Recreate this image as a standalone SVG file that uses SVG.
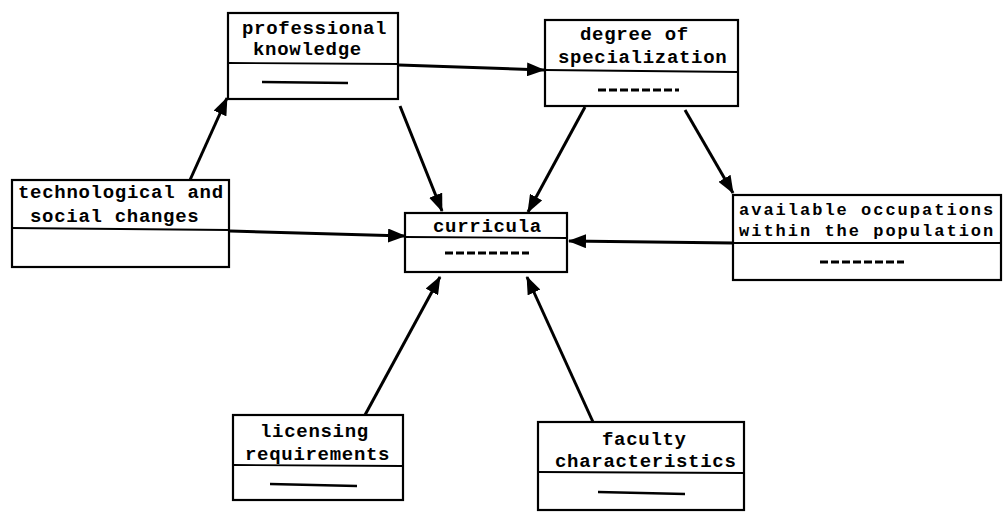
<svg xmlns="http://www.w3.org/2000/svg" width="1003" height="512" viewBox="0 0 1003 512">
<style>
.box{fill:#fff;stroke:#000;stroke-width:2.2}
.div{stroke:#000;stroke-width:1.8}
.dash{stroke:#000;stroke-width:2.4}
.dd{stroke:#000;stroke-width:3;stroke-dasharray:8 3}
.t{font-family:"Liberation Mono","DejaVu Sans Mono",monospace;font-size:19px;letter-spacing:0.7px;font-weight:bold;fill:#000}
.s{font-size:17px;letter-spacing:2px}
.c{stroke:#000;stroke-width:3;fill:none;marker-end:url(#ah)}
</style>
<defs>
<marker id="ah" markerUnits="userSpaceOnUse" markerWidth="18" markerHeight="14" refX="17" refY="7" orient="auto">
<path d="M0,0 L18,7 L0,14 z" fill="#000"/>
</marker>
</defs>
<rect width="1003" height="512" fill="#fff"/>
<g id="connectors">
<line class="c" x1="190" y1="180" x2="227" y2="98"/>
<line class="c" x1="400" y1="106" x2="442" y2="211"/>
<line class="c" x1="399" y1="65" x2="544" y2="70"/>
<line class="c" x1="230" y1="231" x2="405" y2="236"/>
<line class="c" x1="585" y1="107" x2="528" y2="212"/>
<line class="c" x1="685" y1="110" x2="733" y2="193"/>
<line class="c" x1="733" y1="243" x2="569" y2="241"/>
<line class="c" x1="365" y1="415" x2="440" y2="277"/>
<line class="c" x1="593" y1="422" x2="527" y2="277"/>
</g>
<g id="professional-knowledge">
<rect class="box" x="228" y="13" width="170" height="86"/>
<line class="div" x1="228" y1="63" x2="398" y2="64"/>
<text class="t" x="242" y="34">professional</text>
<text class="t" x="253" y="55">knowledge</text>
<line class="dash" x1="262" y1="82" x2="348" y2="83"/>
</g>
<g id="degree-of-specialization">
<rect class="box" x="545" y="20" width="193" height="86"/>
<line class="div" x1="545" y1="70" x2="738" y2="72"/>
<text class="t" x="580" y="40">degree of</text>
<text class="t" x="558" y="63">specialization</text>
<line class="dd" x1="598" y1="90" x2="679" y2="90"/>
</g>
<g id="technological-and-social-changes">
<rect class="box" x="12" y="180" width="217" height="87"/>
<line class="div" x1="12" y1="228" x2="229" y2="230"/>
<text class="t" x="18" y="198">technological and</text>
<text class="t" x="30" y="222">social changes</text>
</g>
<g id="curricula">
<rect class="box" x="405" y="213" width="162" height="59"/>
<line class="div" x1="405" y1="237" x2="567" y2="238"/>
<text class="t" x="433" y="232">curricula</text>
<line class="dd" x1="445" y1="253" x2="529" y2="253"/>
</g>
<g id="available-occupations">
<rect class="box" x="733" y="195" width="268" height="85"/>
<line class="div" x1="733" y1="243" x2="1001" y2="243"/>
<text class="t s" x="739" y="215">available occupations</text>
<text class="t s" x="739" y="236">within the population</text>
<line class="dd" x1="820" y1="262" x2="904" y2="262"/>
</g>
<g id="licensing-requirements">
<rect class="box" x="233" y="415" width="170" height="85"/>
<line class="div" x1="233" y1="465" x2="403" y2="466"/>
<text class="t" x="260" y="437">licensing</text>
<text class="t" x="245" y="460">requirements</text>
<line class="dash" x1="270" y1="484" x2="357" y2="486"/>
</g>
<g id="faculty-characteristics">
<rect class="box" x="538" y="422" width="206" height="88"/>
<line class="div" x1="538" y1="472" x2="744" y2="473"/>
<text class="t" x="602" y="445">faculty</text>
<text class="t" x="555" y="467">characteristics</text>
<line class="dash" x1="598" y1="492" x2="685" y2="494"/>
</g>
</svg>
